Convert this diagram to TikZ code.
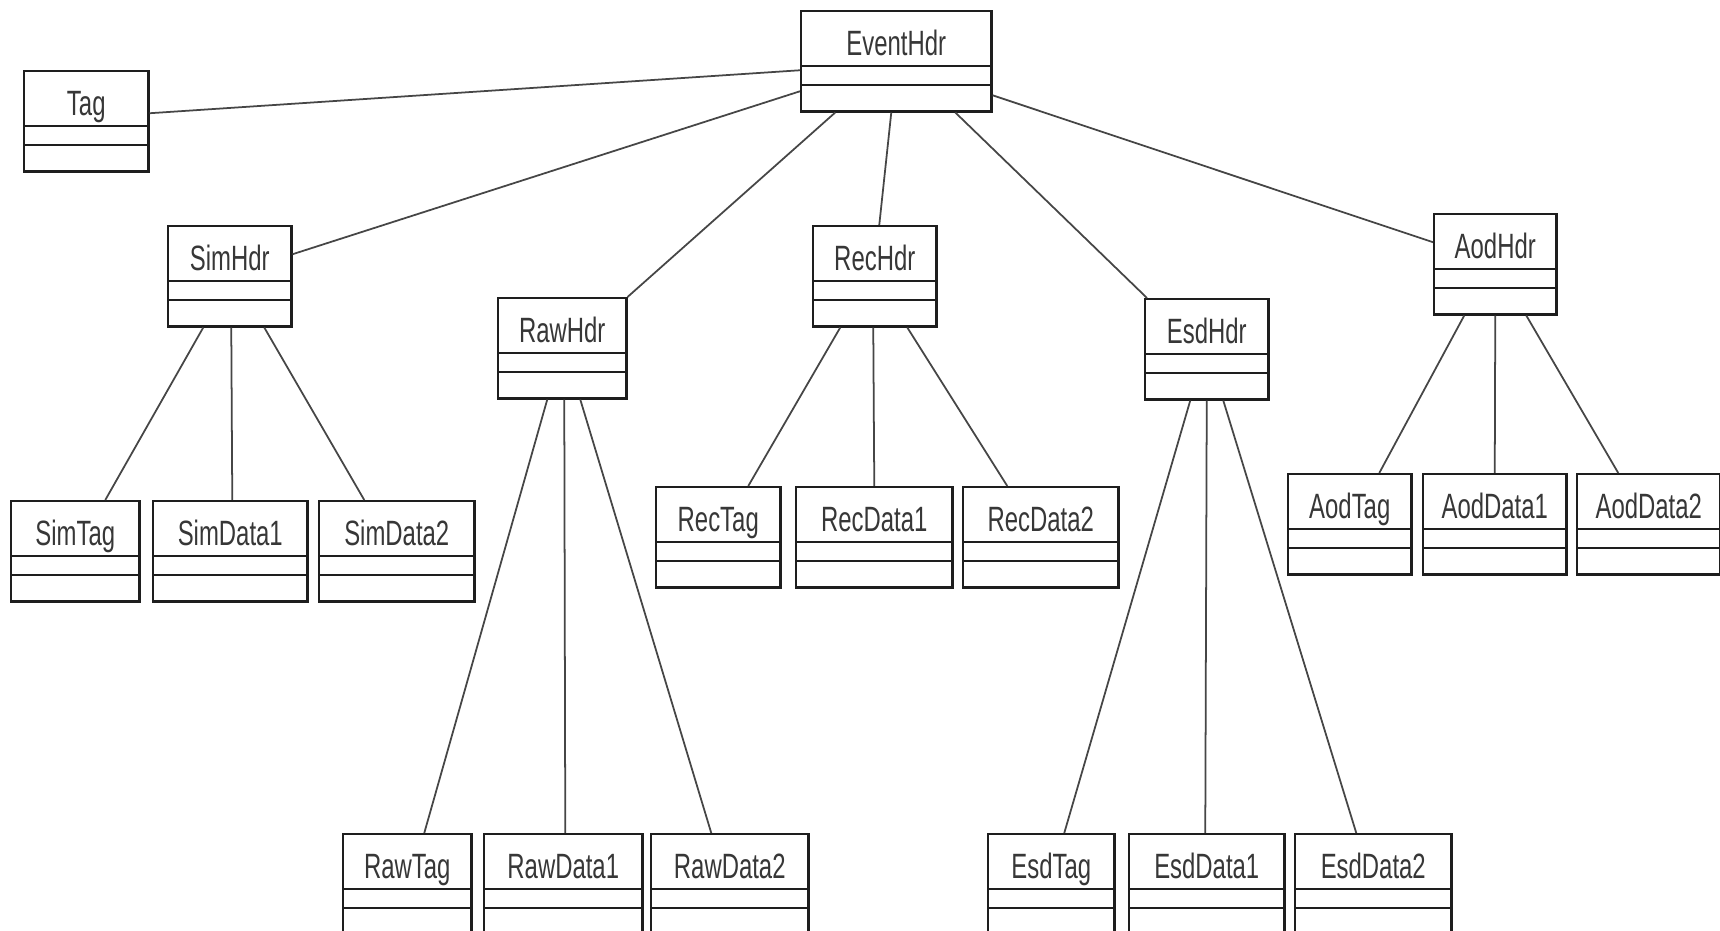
\documentclass[tikz,border=0pt]{standalone}
\usepackage{fontspec}
\setmainfont{Liberation Sans}[FakeStretch=0.68]
\usepackage{tikz}
\usepackage{xcolor}

\definecolor{boxline}{RGB}{30,30,30}
\definecolor{linkline}{RGB}{70,70,70}
\definecolor{nametext}{RGB}{55,55,55}

\begin{document}
\begin{tikzpicture}[x=0.01cm,y=-0.01cm,
class_node/.style={draw=boxline,line width=0.7pt,rectangle,anchor=north west,inner xsep=0pt,inner ysep=0pt,text height=0.44cm,text depth=0.56cm,minimum width=#1,font=\fontsize{10}{12}\selectfont,text=nametext},
link/.style={draw=linkline,line width=0.5pt}]

\useasboundingbox[fill=white] (0,0) rectangle (1720,931);

\node[class_node=1.90cm] (EventHdr) at (800,10) {EventHdr};
\node[class_node=1.24cm] (Tag) at (23,70) {Tag};

\node[class_node=1.23cm] (SimHdr) at (167,225) {SimHdr};
\node[class_node=1.28cm] (RawHdr) at (497,297) {RawHdr};
\node[class_node=1.23cm] (RecHdr) at (812,225) {RecHdr};
\node[class_node=1.23cm] (EsdHdr) at (1144,298) {EsdHdr};
\node[class_node=1.22cm] (AodHdr) at (1433,213) {AodHdr};

\node[class_node=1.28cm] (SimTag) at (10,500) {SimTag};
\node[class_node=1.54cm] (SimData1) at (152,500) {SimData1};
\node[class_node=1.55cm] (SimData2) at (318,500) {SimData2};

\node[class_node=1.28cm] (RawTag) at (342,833) {RawTag};
\node[class_node=1.58cm] (RawData1) at (483,833) {RawData1};
\node[class_node=1.57cm] (RawData2) at (650,833) {RawData2};

\node[class_node=1.24cm] (RecTag) at (655,486) {RecTag};
\node[class_node=1.56cm] (RecData1) at (795,486) {RecData1};
\node[class_node=1.55cm] (RecData2) at (962,486) {RecData2};

\node[class_node=1.26cm] (EsdTag) at (987,833) {EsdTag};
\node[class_node=1.55cm] (EsdData1) at (1128,833) {EsdData1};
\node[class_node=1.56cm] (EsdData2) at (1294,833) {EsdData2};

\node[class_node=1.23cm] (AodTag) at (1287,473) {AodTag};
\node[class_node=1.43cm] (AodData1) at (1422,473) {AodData1};
\node[class_node=1.43cm] (AodData2) at (1576,473) {AodData2};

% attribute and operation compartments
\foreach \n in {EventHdr,Tag,SimHdr,RawHdr,RecHdr,EsdHdr,AodHdr,SimTag,SimData1,SimData2,RawTag,RawData1,RawData2,RecTag,RecData1,RecData2,EsdTag,EsdData1,EsdData2,AodTag,AodData1,AodData2}{
  \draw[boxline,line width=0.7pt] ([yshift=-0.56cm]\n.north west) -- ([yshift=-0.56cm]\n.north east);
  \draw[boxline,line width=0.7pt] ([yshift=-0.75cm]\n.north west) -- ([yshift=-0.75cm]\n.north east);
}

\path[link]
([yshift=0.08cm]Tag.east) edge ([yshift=-0.09cm]EventHdr.west)
([yshift=-0.30cm]EventHdr.west) edge ([yshift=0.22cm]SimHdr.east)
([xshift=-0.61cm]EventHdr.south) edge (RawHdr.north east)
([xshift=-0.05cm]EventHdr.south) edge ([xshift=0.045cm]RecHdr.north)
([xshift=0.59cm]EventHdr.south) edge ([xshift=0.03cm]EsdHdr.north west)
([yshift=-0.34cm]EventHdr.east) edge ([yshift=0.22cm]AodHdr.west)
;

\path[link]
([xshift=-0.265cm]SimHdr.south) edge ([xshift=0.30cm]SimTag.north)
([xshift=0.015cm]SimHdr.south) edge ([xshift=0.02cm]SimData1.north)
([xshift=0.345cm]SimHdr.south) edge ([xshift=-0.325cm]SimData2.north)
([xshift=-0.15cm]RawHdr.south) edge ([xshift=0.17cm]RawTag.north)
([xshift=0.02cm]RawHdr.south) edge ([xshift=0.02cm]RawData1.north)
([xshift=0.18cm]RawHdr.south) edge ([xshift=-0.185cm]RawData2.north)
([xshift=-0.345cm]RecHdr.south) edge ([xshift=0.30cm]RecTag.north)
([xshift=-0.015cm]RecHdr.south) edge (RecData1.north)
([xshift=0.325cm]RecHdr.south) edge ([xshift=-0.335cm]RecData2.north)
([xshift=-0.165cm]EsdHdr.south) edge ([xshift=0.13cm]EsdTag.north)
(EsdHdr.south) edge ([xshift=-0.015cm]EsdData1.north)
([xshift=0.165cm]EsdHdr.south) edge ([xshift=-0.17cm]EsdData2.north)
([xshift=-0.31cm]AodHdr.south) edge ([xshift=0.295cm]AodTag.north)
(AodHdr.south) edge (AodData1.north)
([xshift=0.31cm]AodHdr.south) edge ([xshift=-0.305cm]AodData2.north)
;

\end{tikzpicture}
\end{document}
